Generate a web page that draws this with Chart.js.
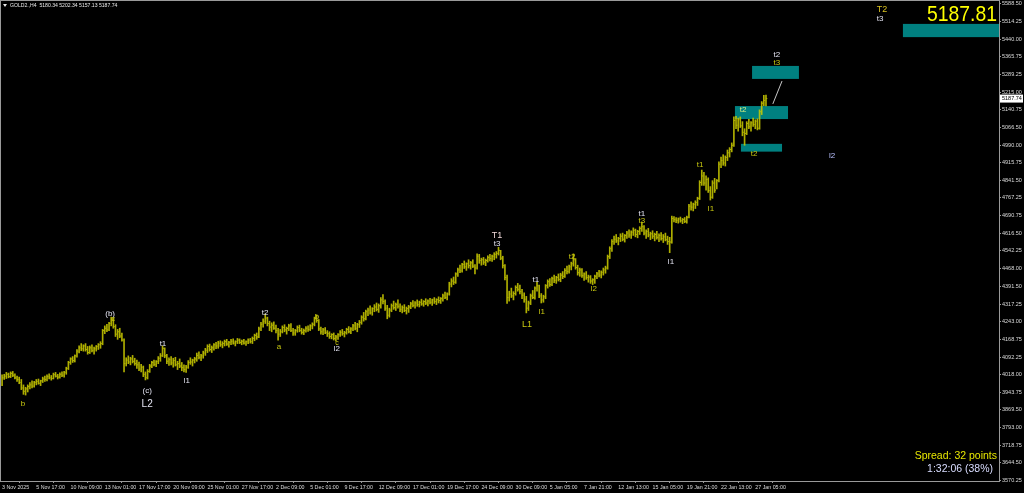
<!DOCTYPE html>
<html>
<head>
<meta charset="utf-8">
<script src="https://cdn.jsdelivr.net/npm/chart.js@4.4.1/dist/chart.umd.min.js"></script>
<style>
html, body { margin: 0; padding: 0; background: #000; overflow: hidden; }
canvas { display: block; }
</style>
</head>
<body>
<canvas id="chart" width="1024" height="493"></canvas>
<script>
var symbolTitle = 'GOLD2.,H4  5180.34 5202.34 5157.13 5187.74';
var bidPrice = '5187.81';
var spreadText = 'Spread: 32 points';
var timerText = '1:32:06 (38%)';

// H4 bars, 3 Nov 2025 -> 27 Jan 2026
var highs = [
    4018,4020,4028,4025,4030,4032,4022,4012,4008,3998,
    3975,3965,3975,3985,3992,3990,3998,4000,3995,4008,
    4012,4018,4022,4015,4025,4028,4020,4026,4030,4032,
    4050,4075,4090,4095,4102,4125,4140,4150,4145,4150,
    4138,4140,4145,4135,4142,4150,4158,4210,4225,4232,
    4240,4262,4258,4230,4210,4215,4195,4170,4090,4098,
    4092,4100,4088,4080,4072,4062,4055,4030,4040,4062,
    4075,4080,4078,4095,4108,4140,4132,4105,4090,4095,
    4088,4092,4075,4085,4070,4060,4058,4078,4090,4084,
    4092,4110,4115,4105,4118,4130,4145,4148,4140,4150,
    4155,4160,4162,4158,4165,4168,4160,4168,4170,4162,
    4172,4170,4165,4168,4162,4170,4172,4178,4190,4195,
    4220,4240,4255,4275,4262,4245,4238,4242,4228,4215,
    4210,4225,4230,4220,4232,4235,4215,4210,4225,4228,
    4215,4212,4222,4225,4230,4238,4262,4272,4252,4220,
    4215,4218,4205,4200,4192,4195,4185,4192,4205,4210,
    4202,4215,4222,4218,4232,4240,4236,4248,4268,4282,
    4292,4300,4310,4302,4315,4322,4318,4345,4358,4335,
    4312,4300,4318,4330,4322,4335,4318,4310,4315,4305,
    4312,4325,4332,4328,4335,4330,4338,4332,4340,4335,
    4342,4338,4345,4340,4348,4345,4360,4368,4365,4410,
    4425,4432,4450,4470,4482,4490,4500,4492,4505,4498,
    4505,4485,4530,4528,4512,4515,4508,4522,4528,4525,
    4535,4540,4558,4545,4520,4485,4440,4372,4385,4370,
    4395,4405,4398,4380,4365,4350,4330,4360,4375,4390,
    4410,4398,4362,4355,4400,4420,4425,4432,4440,4435,
    4445,4448,4455,4468,4478,4482,4495,4530,4510,4482,
    4470,4468,4450,4455,4440,4438,4425,4440,4452,4460,
    4458,4470,4478,4525,4560,4590,4605,4612,4600,4615,
    4618,4612,4625,4632,4628,4640,4635,4630,4645,4665,
    4650,4632,4638,4622,4628,4618,4625,4615,4620,4612,
    4618,4605,4600,4690,4688,4684,4682,4686,4680,4684,
    4690,4740,4750,4745,4755,4770,4840,4885,4875,4860,
    4852,4815,4840,4850,4845,4920,4940,4950,4945,4970,
    4980,5000,5110,5112,5105,5110,5090,5060,5090,5100,
    5090,5105,5098,5102,5140,5175,5202,5202.34
];
var lows = [
    3972,3998,4002,4005,4006,4010,4000,3990,3980,3955,
    3935,3932,3945,3958,3962,3965,3975,3978,3972,3985,
    3990,3992,4000,3995,4000,4008,4000,4004,4010,4008,
    4020,4040,4062,4070,4072,4092,4110,4120,4118,4118,
    4105,4108,4115,4105,4118,4125,4130,4145,4192,4200,
    4205,4225,4215,4180,4168,4175,4160,4030,4055,4065,
    4060,4068,4058,4045,4035,4030,4010,3996,4000,4028,
    4048,4055,4052,4065,4075,4095,4090,4065,4058,4060,
    4050,4055,4040,4048,4035,4030,4028,4045,4062,4055,
    4068,4075,4085,4078,4088,4100,4112,4118,4112,4122,
    4128,4130,4138,4132,4140,4142,4135,4145,4148,4140,
    4150,4150,4145,4148,4142,4150,4152,4150,4162,4168,
    4175,4205,4220,4235,4225,4205,4200,4210,4195,4165,
    4180,4195,4200,4190,4205,4200,4185,4185,4198,4200,
    4190,4188,4198,4202,4205,4212,4225,4240,4205,4190,
    4188,4192,4180,4172,4170,4165,4160,4168,4180,4185,
    4178,4190,4195,4192,4205,4208,4200,4218,4232,4245,
    4250,4268,4275,4270,4285,4288,4282,4300,4318,4290,
    4255,4262,4285,4295,4290,4300,4285,4280,4285,4275,
    4282,4298,4305,4300,4308,4305,4312,4308,4315,4310,
    4318,4312,4320,4315,4322,4320,4330,4340,4335,4355,
    4390,4400,4405,4435,4450,4452,4468,4460,4470,4465,
    4472,4445,4465,4490,4482,4485,4480,4495,4500,4498,
    4505,4512,4525,4505,4470,4420,4320,4330,4345,4335,
    4355,4372,4360,4340,4325,4280,4290,4315,4340,4338,
    4372,4345,4322,4325,4340,4385,4392,4395,4408,4405,
    4415,4412,4425,4430,4445,4448,4462,4478,4465,4440,
    4435,4430,4418,4422,4410,4405,4400,4405,4425,4432,
    4428,4440,4448,4465,4510,4540,4570,4578,4568,4582,
    4585,4580,4595,4600,4595,4608,4602,4598,4612,4625,
    4610,4595,4602,4590,4595,4585,4592,4582,4588,4578,
    4585,4570,4535,4575,4665,4662,4660,4664,4658,4662,
    4660,4682,4715,4712,4722,4735,4760,4820,4820,4800,
    4790,4758,4765,4790,4805,4835,4895,4905,4902,4925,
    4940,4962,4985,5060,5050,5065,5030,4990,5035,5060,
    5050,5070,5060,5055,5058,5120,5158,5157.13
];
var closes = [
    4005,4012,4020,4010,4024,4016,4005,3998,3985,3962,
    3948,3958,3968,3975,3970,3985,3990,3982,3992,4000,
    3998,4010,4005,4002,4018,4012,4008,4020,4016,4028,
    4045,4070,4085,4078,4098,4118,4132,4128,4140,4125,
    4112,4132,4120,4128,4138,4145,4150,4205,4215,4208,
    4235,4250,4222,4190,4200,4182,4165,4065,4080,4072,
    4085,4075,4065,4060,4042,4050,4020,4005,4032,4055,
    4070,4062,4074,4088,4098,4130,4098,4075,4082,4068,
    4078,4060,4065,4055,4048,4040,4050,4070,4072,4080,
    4085,4100,4092,4098,4110,4122,4138,4125,4132,4145,
    4140,4152,4145,4150,4158,4148,4155,4160,4152,4158,
    4165,4155,4160,4152,4158,4165,4158,4172,4185,4178,
    4212,4232,4245,4258,4235,4220,4228,4215,4205,4190,
    4200,4218,4208,4214,4225,4205,4195,4205,4218,4206,
    4198,4205,4215,4210,4225,4232,4255,4248,4212,4200,
    4208,4196,4192,4180,4188,4172,4178,4188,4198,4192,
    4196,4210,4200,4212,4225,4215,4230,4240,4262,4255,
    4285,4292,4280,4298,4305,4295,4310,4335,4328,4300,
    4270,4292,4310,4302,4315,4308,4295,4302,4290,4298,
    4305,4318,4312,4322,4315,4325,4318,4328,4322,4330,
    4325,4335,4328,4336,4332,4340,4352,4345,4360,4402,
    4415,4410,4445,4462,4458,4485,4475,4488,4480,4492,
    4478,4470,4520,4502,4505,4495,4502,4515,4510,4520,
    4528,4532,4545,4512,4480,4430,4345,4360,4352,4362,
    4388,4380,4370,4355,4338,4300,4322,4352,4345,4385,
    4395,4352,4335,4348,4395,4412,4400,4425,4418,4430,
    4422,4440,4435,4460,4455,4475,4488,4505,4472,4450,
    4462,4438,4445,4430,4432,4415,4420,4435,4445,4440,
    4452,4462,4470,4518,4552,4582,4592,4585,4595,4605,
    4592,4608,4618,4610,4622,4630,4612,4625,4638,4645,
    4618,4625,4610,4615,4605,4612,4600,4608,4595,4602,
    4590,4582,4580,4680,4675,4672,4678,4670,4675,4668,
    4685,4732,4728,4740,4748,4765,4832,4860,4830,4845,
    4798,4770,4830,4800,4840,4910,4925,4915,4938,4958,
    4972,4990,5095,5075,5098,5072,5045,5040,5082,5068,
    5085,5078,5092,5062,5132,5168,5180,5187.74
];

var xTickBars = [0,16,32,48,64,80,96,112,128,144,160,176,192,208,224,240,256,272,288,304,320,336,352];
var xTickLabels = ['3 Nov 2025','5 Nov 17:00','10 Nov 09:00','13 Nov 01:00','17 Nov 17:00','20 Nov 09:00',
    '25 Nov 01:00','27 Nov 17:00','2 Dec 09:00','5 Dec 01:00','9 Dec 17:00','12 Dec 09:00','17 Dec 01:00',
    '19 Dec 17:00','24 Dec 09:00','30 Dec 09:00','5 Jan 05:00','7 Jan 21:00','12 Jan 13:00','15 Jan 05:00',
    '19 Jan 21:00','22 Jan 13:00','27 Jan 05:00'];
var yTicks = [5588.50,5514.25,5440.00,5365.75,5289.25,5215.00,5140.75,5066.50,4990.00,4915.75,4841.50,
    4767.25,4690.75,4616.50,4542.25,4468.00,4391.50,4317.25,4243.00,4168.75,4092.25,4018.00,3943.75,
    3869.50,3793.00,3718.75,3644.50,3570.25];

// target zones: bar range and price range
var zones = [
    { from: 421, to: 470, top: 5504, bottom: 5448 },
    { from: 350.5, to: 372.4, top: 5326, bottom: 5271 },
    { from: 342.5, to: 367.3, top: 5156, bottom: 5101 },
    { from: 345.3, to: 364.5, top: 4996, bottom: 4963 }
];
var projLine = [{ x: 364.5, y: 5262 }, { x: 360.2, y: 5165 }];

// wave labels: text, bar, price, colour, size
var YEL = '#c8c810', WHT = '#e2e2f0';
var waveLabels = [
    ['b', 9.8, 3895, YEL, 8], ['(b)', 50.5, 4276, WHT, 8], ['c', 51.9, 4254, YEL, 7],
    ['(c)', 67.8, 3950, WHT, 8], ['L2', 67.8, 3895, WHT, 10], ['t1', 75.2, 4148, WHT, 8],
    ['l1', 86.4, 3992, WHT, 8], ['t2', 122.9, 4280, WHT, 8], ['a', 129.4, 4136, YEL, 8],
    ['b', 147.2, 4263, YEL, 8], ['c', 156.5, 4153, YEL, 7], ['l2', 156.5, 4127, WHT, 8],
    ['T1', 231.3, 4606, '#f0d8d8', 9], ['t3', 231.3, 4572, WHT, 8], ['L1', 245.3, 4229, YEL, 9],
    ['t1', 249.5, 4420, WHT, 8], ['l1', 252.3, 4284, YEL, 8], ['t2', 266.4, 4517, YEL, 8],
    ['l2', 276.6, 4381, YEL, 8], ['t1', 299, 4699, WHT, 8], ['t3', 299, 4669, YEL, 8],
    ['l1', 312.6, 4496, WHT, 8], ['t1', 326.2, 4907, YEL, 8], ['l1', 331.3, 4720, YEL, 8],
    ['t2', 346.3, 5140, '#d8f080', 8], ['t2', 351.4, 4953, YEL, 8], ['l2', 387.9, 4945, '#b8c0ff', 8],
    ['t2', 362.1, 5372, WHT, 8], ['t3', 362.1, 5338, YEL, 8], ['T2', 411.2, 5563, '#d8c020', 9],
    ['t3', 410.3, 5525, WHT, 8]
];

(function () {
    'use strict';

    var BAR = 'rgba(205,205,0,0.85)';
    var FRAME = '#9a9a9a';

    var hl = highs.map(function (h, i) { return { x: i, y: [lows[i], h] }; });
    var clTicks = closes.map(function (c, i) { return { x: i + 0.4, y: c }; });

    function noPad(s) {
        s.paddingLeft = 0; s.paddingRight = 0; s.paddingTop = 0; s.paddingBottom = 0;
    }

    var overlay = {
        id: 'mtOverlay',
        beforeDatasetsDraw: function (chart) {
            var ctx = chart.ctx, xs = chart.scales.x, ys = chart.scales.y, a = chart.chartArea;
            ctx.save();
            ctx.beginPath();
            ctx.rect(a.left, a.top, a.right - a.left, a.bottom - a.top);
            ctx.clip();
            ctx.fillStyle = '#008080';
            zones.forEach(function (z) {
                var x1 = xs.getPixelForValue(z.from), x2 = xs.getPixelForValue(z.to);
                var y1 = ys.getPixelForValue(z.top), y2 = ys.getPixelForValue(z.bottom);
                ctx.fillRect(x1, y1, x2 - x1, y2 - y1);
            });
            ctx.restore();
        },
        afterDraw: function (chart) {
            var ctx = chart.ctx, xs = chart.scales.x, ys = chart.scales.y, a = chart.chartArea;
            ctx.save();
            // frame
            ctx.strokeStyle = FRAME;
            ctx.lineWidth = 1;
            ctx.strokeRect(a.left - 0.5, a.top - 0.5, a.right - a.left + 1, a.bottom - a.top + 1);

            ctx.textAlign = 'center';
            ctx.textBaseline = 'middle';
            waveLabels.forEach(function (w) {
                ctx.fillStyle = w[3];
                ctx.font = w[4] + 'px "Liberation Sans", Arial, sans-serif';
                ctx.fillText(w[0], xs.getPixelForValue(w[1]), ys.getPixelForValue(w[2]));
            });

            // header
            ctx.fillStyle = '#e8e8e8';
            ctx.beginPath();
            ctx.moveTo(3, 4); ctx.lineTo(7, 4); ctx.lineTo(5, 7); ctx.closePath();
            ctx.fill();
            ctx.textAlign = 'left';
            ctx.font = '5.1px "Liberation Sans", Arial, sans-serif';
            ctx.fillText(symbolTitle, 10, 6);

            // bid price, big
            ctx.save();
            ctx.translate(997, 21);
            ctx.scale(0.86, 1);
            ctx.textAlign = 'right';
            ctx.textBaseline = 'alphabetic';
            ctx.fillStyle = '#ffff00';
            ctx.font = '22.5px "Liberation Sans", Arial, sans-serif';
            ctx.fillText(bidPrice, 0, 0);
            ctx.restore();

            // spread + timer
            ctx.textAlign = 'right';
            ctx.textBaseline = 'alphabetic';
            ctx.font = '10.5px "Liberation Sans", Arial, sans-serif';
            ctx.fillStyle = '#e6e600';
            ctx.fillText(spreadText, 997, 459);
            ctx.fillStyle = '#d8dcff';
            ctx.fillText(timerText, 993, 472);

            // last price tag on the price scale
            var last = closes[closes.length - 1];
            var py = ys.getPixelForValue(last);
            ctx.fillStyle = '#ffffff';
            ctx.fillRect(a.right + 1, py - 4, 23, 8);
            ctx.fillStyle = '#000000';
            ctx.textAlign = 'left';
            ctx.textBaseline = 'middle';
            ctx.font = '5.5px "Liberation Sans", Arial, sans-serif';
            ctx.fillText(last.toFixed(2), a.right + 3, py);
            ctx.restore();
        }
    };

    new Chart(document.getElementById('chart'), {
        type: 'bar',
        data: {
            datasets: [
                {
                    type: 'bar',
                    data: hl,
                    backgroundColor: BAR,
                    borderWidth: 0,
                    barThickness: 1,
                    grouped: false,
                    order: 2
                },
                {
                    type: 'scatter',
                    data: clTicks,
                    pointStyle: 'line',
                    pointRadius: 0.5,
                    pointHoverRadius: 0,
                    pointBorderWidth: 1,
                    pointBorderColor: BAR,
                    order: 1
                },
                {
                    type: 'line',
                    data: projLine,
                    borderColor: '#c8c8c8',
                    borderWidth: 1,
                    pointRadius: 0,
                    pointHoverRadius: 0,
                    order: 0
                }
            ]
        },
        options: {
            responsive: false,
            animation: false,
            devicePixelRatio: 1,
            events: [],
            layout: { autoPadding: false, padding: { top: 1, left: 1, right: 0, bottom: 0 } },
            plugins: { legend: { display: false }, tooltip: { enabled: false } },
            scales: {
                x: {
                    type: 'linear',
                    min: -0.5,
                    max: 465.9,
                    offset: false,
                    afterFit: function (s) { s.height = 12; noPad(s); },
                    afterBuildTicks: function (s) {
                        s.ticks = xTickBars.map(function (v) { return { value: v }; });
                    },
                    grid: { display: true, drawOnChartArea: false, tickLength: 2, color: FRAME },
                    border: { display: true, color: FRAME },
                    ticks: {
                        autoSkip: false,
                        maxRotation: 0,
                        align: 'start',
                        padding: 1,
                        color: '#dcdcdc',
                        font: { family: '"Liberation Sans", Arial, sans-serif', size: 5.3 },
                        callback: function (v) {
                            var k = xTickBars.indexOf(v);
                            return k < 0 ? '' : xTickLabels[k];
                        }
                    }
                },
                y: {
                    type: 'linear',
                    position: 'right',
                    min: 3568,
                    max: 5601,
                    afterFit: function (s) { s.width = 25; noPad(s); },
                    afterBuildTicks: function (s) {
                        s.ticks = yTicks.map(function (v) { return { value: v }; });
                    },
                    grid: { display: true, drawOnChartArea: false, tickLength: 2, color: FRAME },
                    border: { display: true, color: FRAME },
                    ticks: {
                        padding: 1,
                        color: '#dcdcdc',
                        font: { family: '"Liberation Sans", Arial, sans-serif', size: 5.5 },
                        callback: function (v) { return Number(v).toFixed(2); }
                    }
                }
            }
        },
        plugins: [overlay]
    });
})();
</script>
</body>
</html>
